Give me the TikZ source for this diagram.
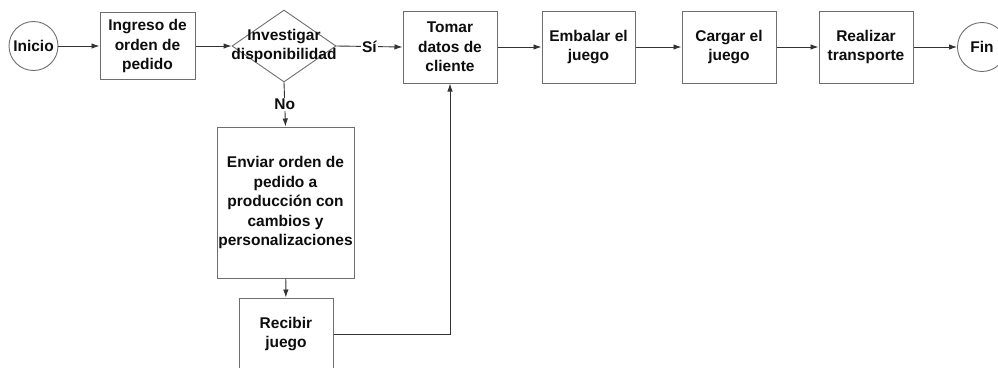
\documentclass[tikz,border=0pt]{standalone}
\usepackage{fontspec}
\setmainfont{Liberation Sans}
\usetikzlibrary{arrows.meta, shapes.geometric}
\definecolor{boxgray}{HTML}{6E6E6E}
\definecolor{linegray}{HTML}{333333}
\definecolor{txt}{HTML}{0D0D0D}

\begin{document}
\begin{tikzpicture}[x=1pt, y=-1pt,
  font=\bfseries\fontsize{15.5}{19.5}\selectfont,
  box/.style={draw=boxgray, line width=1pt, fill=white, text=txt, align=center, inner sep=0pt},
  term/.style={draw=boxgray, line width=0.9pt, circle, minimum size=49pt, text=txt, inner sep=0pt},
  flow/.style={draw=linegray, line width=0.9pt, -{Latex[length=8pt,width=5.5pt]}},
  lbl/.style={fill=white, text=txt, inner sep=1pt}]
\useasboundingbox (0,0) rectangle (998,367);
\node[term](ini) at(33.5, 46){Inicio};
\node[box, minimum width=95pt, minimum height=67pt](ing) at(147.5, 46){Ingreso de\\orden de\\pedido};
\node[draw=boxgray, line width=0.9pt, diamond, minimum width=104pt, minimum height=72pt](inv) at(284, 46){};
\node[text=txt, align=center](invt) at(284, 46){Investigar\\disponibilidad};
\node[box, minimum width=94pt, minimum height=72pt](tom) at(450, 47){Tomar\\datos de\\cliente};
\node[box, minimum width=93pt, minimum height=72pt](emb) at(588.5, 47){Embalar el\\juego};
\node[box, minimum width=94pt, minimum height=72pt](car) at(729, 47){Cargar el\\juego};
\node[box, minimum width=94pt, minimum height=72pt](rea) at(866, 47){Realizar\\transporte};
\node[term](fin) at(982, 47){Fin};
\node[box, minimum width=137pt, minimum height=151pt](env) at(285.5, 202.5){Enviar orden de\\pedido a\\producción con\\cambios y\\personalizaciones};
\node[box, minimum width=94pt, minimum height=72pt](rec) at(286, 334){Recibir\\juego};
\draw[flow](ini)--(ing);
\draw[flow](ing)--(inv);
\draw[flow](inv.east)--node[lbl]{Sí}(tom.west);
\draw[flow](inv.south)--node[lbl]{No}(env.north);
\draw[flow](tom)--(emb);
\draw[flow](emb)--(car);
\draw[flow](car)--(rea);
\draw[flow](rea)--(fin);
\draw[flow](env)--(rec);
\draw[flow](rec.east)-|(tom.south);
\end{tikzpicture}
\end{document}
